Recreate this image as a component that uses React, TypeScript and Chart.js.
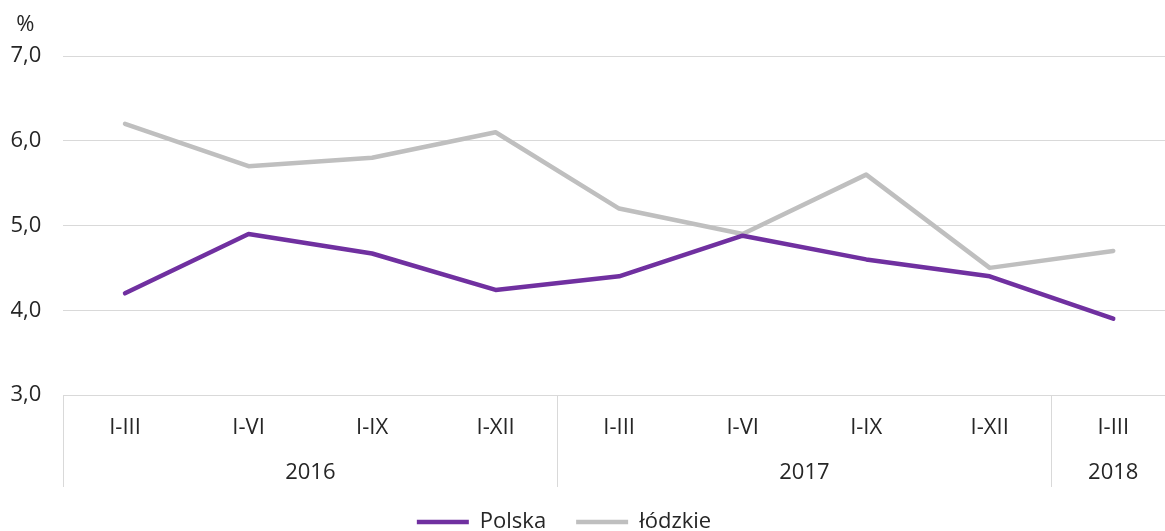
import React, { useEffect, useRef } from "react";
import { Chart, registerables } from "chart.js";

Chart.register(...registerables);

// ---- data ----
const categories = ["I-III", "I-VI", "I-IX", "I-XII", "I-III", "I-VI", "I-IX", "I-XII", "I-III"];
const years = ["2016", "2017", "2018"];
const yearSpans = [4, 4, 1];
const polska = [4.2, 4.9, 4.67, 4.24, 4.4, 4.88, 4.6, 4.4, 3.9];
const lodzkie = [6.2, 5.7, 5.8, 6.1, 5.2, 4.9, 5.6, 4.5, 4.7];
const seriesNames = ["Polska", "łódzkie"];
const yTickValues = [3, 4, 5, 6, 7];
const yTickLabels = ["3,0", "4,0", "5,0", "6,0", "7,0"];
const unitLabel = "%";

// ---- style ----
const FONT = "'Open Sans', 'Noto Sans', sans-serif";
const TEXT = "#262626";
const GRID = "#d9d9d9";
const PURPLE = "#7030a0";
const GREY = "#bfbfbf";

const groupPlugin = {
  id: "yearGroups",
  afterDraw(chart: any) {
    const { ctx, chartArea, scales } = chart;
    const x = scales.x;
    const y = scales.y;
    const step = x.getPixelForValue(1) - x.getPixelForValue(0);
    ctx.save();
    ctx.strokeStyle = GRID;
    ctx.lineWidth = 1;
    ctx.fillStyle = TEXT;
    ctx.font = `22px ${FONT}`;
    ctx.textAlign = "center";
    ctx.textBaseline = "middle";
    let start = 0;
    years.forEach((yr, gi) => {
      const span = yearSpans[gi];
      const left = x.getPixelForValue(start) - step / 2;
      const right = x.getPixelForValue(start + span - 1) + step / 2;
      const lx = Math.round(left) + 0.5;
      ctx.beginPath();
      ctx.moveTo(lx, chartArea.bottom);
      ctx.lineTo(lx, chartArea.bottom + 92);
      ctx.stroke();
      ctx.fillText(yr, (left + right) / 2, chartArea.bottom + 78);
      start += span;
    });
    ctx.fillText(unitLabel, y.right - 38, chartArea.top - 31);
    ctx.restore();
  },
};

export default function App() {
  const ref = useRef<HTMLCanvasElement>(null);

  useEffect(() => {
    if (!ref.current) return;
    const chart = new Chart(ref.current, {
      type: "line",
      data: {
        labels: categories,
        datasets: [
          {
            label: seriesNames[0],
            data: polska,
            borderColor: PURPLE,
            backgroundColor: PURPLE,
            borderWidth: 4.5,
            borderCapStyle: "round",
            borderJoinStyle: "round",
            pointRadius: 0,
            pointHoverRadius: 0,
            pointStyle: "line",
            tension: 0,
          },
          {
            label: seriesNames[1],
            data: lodzkie,
            borderColor: GREY,
            backgroundColor: GREY,
            borderWidth: 4.5,
            borderCapStyle: "round",
            borderJoinStyle: "round",
            pointRadius: 0,
            pointHoverRadius: 0,
            pointStyle: "line",
            tension: 0,
          },
        ],
      },
      options: {
        responsive: false,
        devicePixelRatio: 1,
        animation: false,
        layout: { padding: { top: 56, left: 0, right: 0, bottom: 0 } },
        plugins: {
          title: { display: false },
          tooltip: { enabled: false },
          legend: {
            position: "bottom",
            align: "center",
            labels: {
              usePointStyle: true,
              pointStyle: "line",
              pointStyleWidth: 52,
              padding: 30,
              color: TEXT,
              font: { size: 22, family: FONT },
            },
          },
        },
        scales: {
          x: {
            type: "category",
            offset: true,
            grid: { display: false, drawTicks: false },
            border: { display: true, color: GRID, width: 1 },
            ticks: {
              color: TEXT,
              font: { size: 22, family: FONT },
              padding: 20,
              maxRotation: 0,
              autoSkip: false,
            },
            afterFit: (scale: any) => {
              scale.height = 86;
            },
          },
          y: {
            min: 3,
            max: 7,
            afterBuildTicks: (scale: any) => {
              scale.ticks = yTickValues.map((v) => ({ value: v }));
            },
            grid: { color: GRID, lineWidth: 1, drawTicks: false },
            border: { display: false },
            ticks: {
              color: TEXT,
              font: { size: 22, family: FONT },
              padding: 22,
              callback: (v: any) => {
                const i = yTickValues.indexOf(Number(v));
                return i >= 0 ? yTickLabels[i] : "";
              },
            },
            afterFit: (scale: any) => {
              scale.width = 110.25;
            },
          },
        },
      },
      plugins: [groupPlugin],
    });
    return () => chart.destroy();
  }, []);

  return (
    <div
      style={{
        position: "absolute",
        left: 0,
        top: 0,
        width: 1165,
        height: 531,
        overflow: "hidden",
        background: "#ffffff",
      }}
    >
      <canvas
        ref={ref}
        width={1222}
        height={543}
        style={{ position: "absolute", left: -47, top: 0, width: 1222, height: 543 }}
      />
    </div>
  );
}
